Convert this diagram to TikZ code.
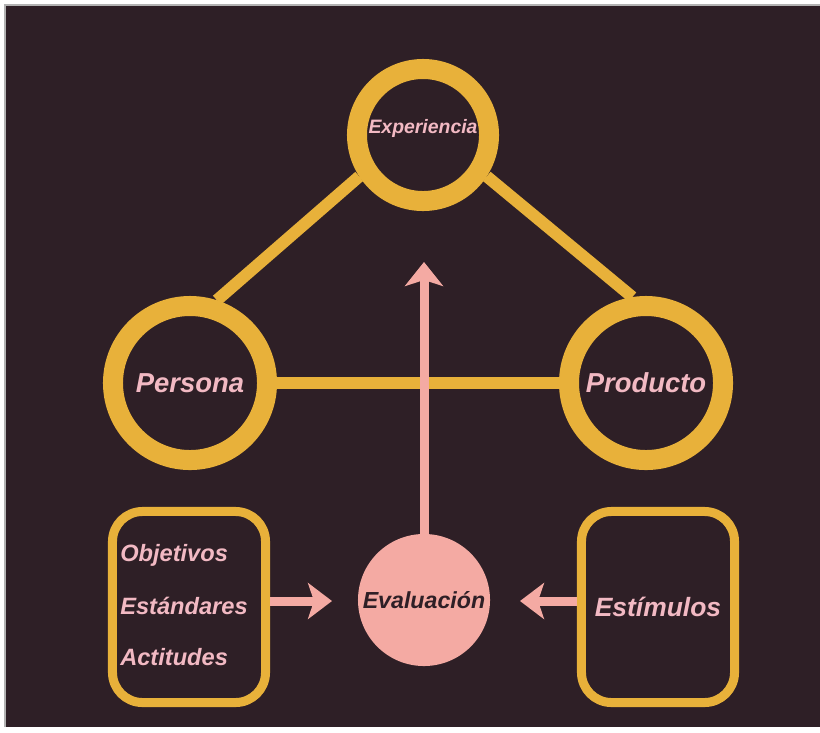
\documentclass[tikz,border=0pt]{standalone}
\usepackage{fontspec}
\setmainfont{Liberation Sans}
\usepackage{xcolor}
\usepackage{tikz}
\usetikzlibrary{shapes.geometric, arrows.meta, positioning}
\definecolor{bgc}{HTML}{2E1F26}
\definecolor{gold}{HTML}{E8B13A}
\definecolor{rosa}{HTML}{F4AAA3}
\definecolor{rosatxt}{HTML}{F2B9C3}
\tikzstyle{ring} = [circle, draw=gold, line width=0.5cm, inner sep=0pt, text=rosatxt, font=\bfseries\itshape\fontsize{19.5}{23}\selectfont]
\tikzstyle{link} = [draw=gold, line width=0.3cm]
\tikzstyle{frame} = [rectangle, draw=gold, line width=0.225cm, rounded corners=0.75cm, minimum width=3.825cm, minimum height=4.775cm, text=rosatxt, font=\bfseries\itshape\fontsize{18.8}{22}\selectfont]
\tikzstyle{item} = [text=rosatxt, inner sep=0pt, font=\bfseries\itshape\fontsize{16.8}{20}\selectfont]
\tikzstyle{parrow} = [draw=rosa, line width=0.225cm, -{Stealth[length=6mm, width=9mm, inset=1.5mm]}]

\begin{document}
\begin{tikzpicture}[x=0.025cm, y=-0.025cm]
        \useasboundingbox (0,0) rectangle (820,732);
        % background
        \fill[white] (0,0) rectangle (820,732);
        \fill[bgc] (5,5) rectangle (820,727);
        \draw[gray!60, line width=1pt] (5,727) -- (5,5) -- (820,5);

        \node (exp) [ring, minimum size=3.3cm, text depth=0.45cm, font=\bfseries\itshape\fontsize{13.8}{17}\selectfont] at (423,135) {Experiencia};
        \node (per) [ring, minimum size=3.85cm] at (190,383) {Persona};
        \node (pro) [ring, minimum size=3.85cm] at (646,383) {Producto};

        \draw[link] (exp.213) -- (per.72);
        \draw[link] (exp.327) -- (pro.99);
        \draw[link] (per) -- (pro);

        \node (eva) [circle, fill=rosa, minimum size=3.3cm, inner sep=0pt, text=bgc, font=\bfseries\itshape\fontsize{16.5}{20}\selectfont] at (424,600) {Evaluación};

        \node (obj) [frame] at (189,607) {};
        \node (est) [frame] at (658,607) {Estímulos};

        \node (o1) [item, anchor=west] at (120,555) {Objetivos};
        \node (o2) [item, anchor=west] at (120,606) {Estándares};
        \node (o3) [item, anchor=west] at (120,657) {Actitudes};

        \coordinate (up) at (424,262);
        \coordinate (lt) at (332,601);
        \coordinate (rt) at (520,601);
        \draw[parrow, -{Stealth[length=6mm, width=9.5mm, inset=1.5mm]}] (eva.north) -- (up);
        \draw[parrow] (obj.east |- lt) -- (lt);
        \draw[parrow] (est.west |- rt) -- (rt);
    \end{tikzpicture}
\end{document}
